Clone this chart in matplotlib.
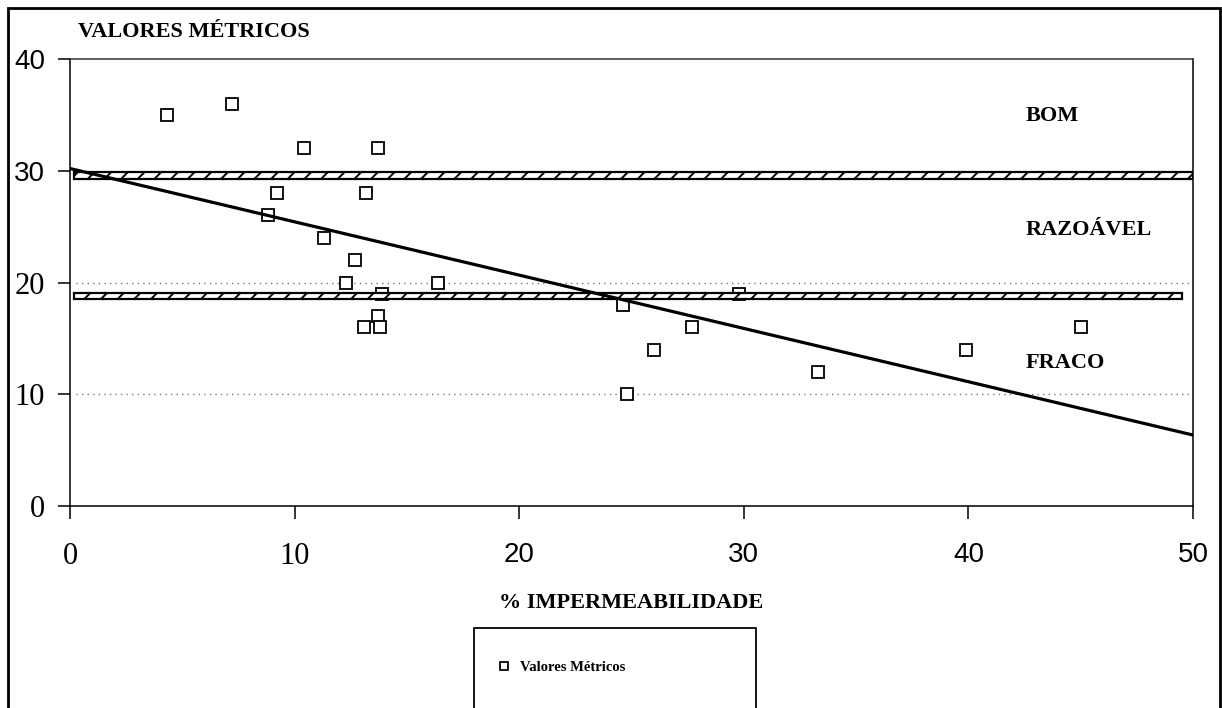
import numpy as np
import matplotlib.pyplot as plt
from matplotlib.patches import Rectangle

# pontos (% impermeabilidade, valor metrico)
imperm = [4.3, 7.2, 10.4, 13.7, 9.2, 13.2, 8.8, 11.3, 12.7, 12.3, 16.4, 13.9,
          13.7, 13.1, 13.8, 24.6, 29.8, 27.7, 26.0, 24.8, 33.3, 39.9, 45.0]
valores = [35, 36, 32, 32, 28, 28, 26, 24, 22, 20, 20, 19,
           17, 16, 16, 18, 19, 16, 14, 10, 12, 14, 16]

# reta de tendencia (extremos lidos)
trend_x = [0, 50]
trend_y = [30.2, 6.35]

# faixas de classificacao
band_levels = [29.6, 18.8]
band_start = [0.2, 0.2]
band_end = [50.0, 49.5]
grid_levels = [10, 20]

classes = ['BOM', 'RAZOÁVEL', 'FRACO']
class_y = [34.9, 24.7, 12.8]

x_ticks = [0, 10, 20, 30, 40, 50]
y_ticks = [0, 10, 20, 30, 40]

SERIF = 'Liberation Serif'
SANS = 'Liberation Sans'
plt.rcParams['hatch.linewidth'] = 1.4

fig = plt.figure(figsize=(12.22, 7.08), dpi=100)
W, H = 1222, 708
ax = fig.add_axes([70 / W, 1 - 506 / H, (1193 - 70) / W, (506 - 59) / H])

for lvl in grid_levels:
    ax.axhline(lvl, xmin=0.005, color='#777777', lw=1.0, ls=(0, (1, 3)), zorder=1)

ax.plot(imperm, valores, ls='none', marker='s', ms=9, mfc='white', mec='black',
        mew=1.3, zorder=2, label='Valores Métricos')

widths = [e - s for s, e in zip(band_start, band_end)]
ax.barh(band_levels, widths, left=band_start, height=0.6, color='white',
        edgecolor='black', hatch='//', lw=1.6, zorder=3)

ax.plot(trend_x, trend_y, color='black', lw=2.3, zorder=4)

for name, yy in zip(classes, class_y):
    ax.text(42.55, yy, name, fontsize=16, fontweight='bold', family=SERIF,
            va='center', ha='left')

ax.set_xlim(0, 50)
ax.set_ylim(0, 40)
ax.set_xticks(x_ticks)
ax.set_yticks(y_ticks)
ax.tick_params(axis='both', direction='out', length=9, width=1.1, labelsize=20)
ax.tick_params(axis='x', pad=17)
ax.tick_params(axis='y', pad=9)
for lab in ax.get_xticklabels():
    if lab.get_text() in ('0', '10'):
        lab.set_family(SERIF)
        lab.set_fontsize(22)
    else:
        lab.set_family(SANS)
for lab in ax.get_yticklabels():
    if lab.get_text() in ('0', '10', '20'):
        lab.set_family(SERIF)
        lab.set_fontsize(22)
    else:
        lab.set_family(SANS)
for sp in ax.spines.values():
    sp.set_linewidth(1.1)
ax.spines['top'].set_color('#333333')

ax.set_xlabel('% IMPERMEABILIDADE', fontsize=16, fontweight='bold', family=SERIF,
              labelpad=16)
fig.text(78 / W, 1 - 32 / H, 'VALORES MÉTRICOS', fontsize=16, fontweight='bold',
         family=SERIF, va='center', ha='left')

# caixa da legenda
fig.patches.append(Rectangle((474 / W, -0.05), (756 - 474) / W, 1 - 628 / H + 0.05,
                             transform=fig.transFigure, fill=False, ec='black', lw=1.3))
fig.legend(loc='center left', bbox_to_anchor=(484 / W, 1 - 667 / H), frameon=False,
           prop={'family': SERIF, 'weight': 'bold', 'size': 10.5},
           markerscale=0.7, handlelength=1.0, handletextpad=0.6)

# moldura externa
fig.patches.append(Rectangle((8 / W, -0.05), (1220 - 8) / W, 1 - 8 / H + 0.05,
                             transform=fig.transFigure, fill=False, ec='black', lw=2))

fig.savefig('out.png', dpi=100)
